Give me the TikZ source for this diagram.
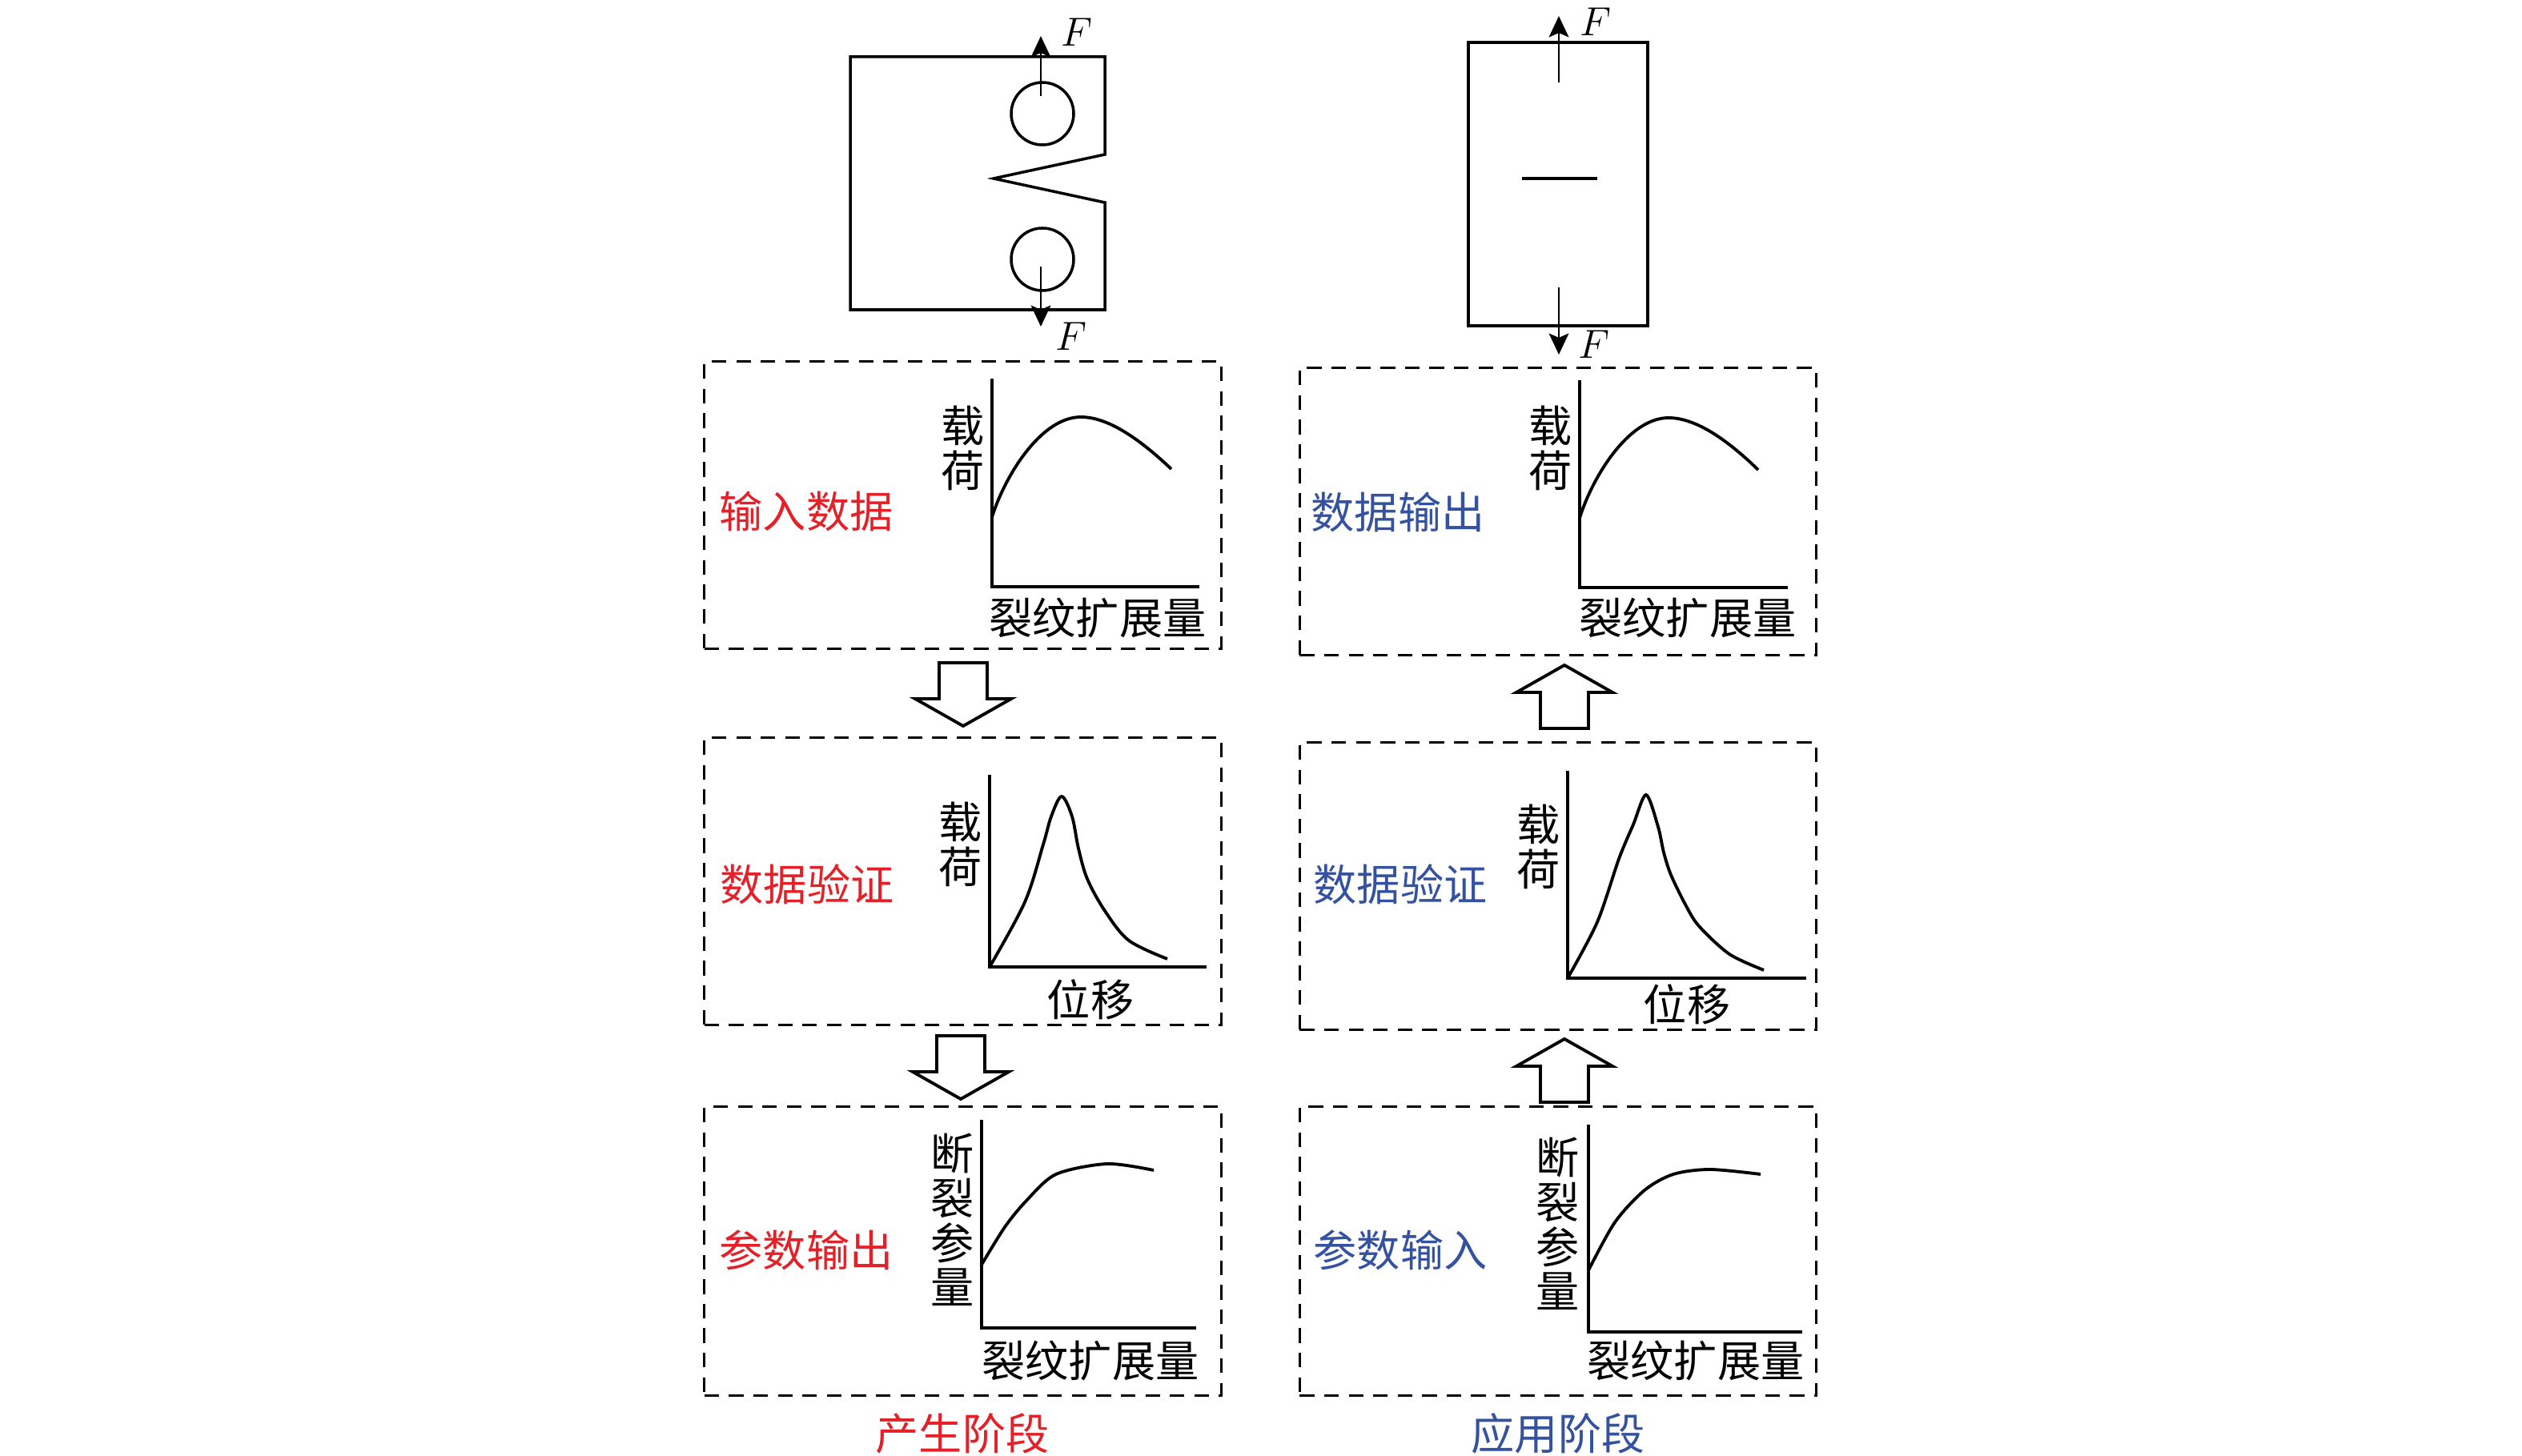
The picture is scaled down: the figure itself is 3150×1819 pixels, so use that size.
\documentclass[tikz,border=0pt]{standalone}
\usepackage{fontspec}
\usetikzlibrary{arrows.meta}
\newfontfamily\cjk{Noto Sans CJK SC}
\definecolor{cred}{RGB}{228, 32, 40}
\definecolor{cblue}{RGB}{52, 82, 160}
\tikzset{dbox/.style = {draw, dash pattern=on 5.2pt off 3.5pt, line width=0.9pt,
                        minimum width=6.45cm, minimum height=3.58cm, inner sep=0}}
\tikzset{txt/.style = {font=\cjk\fontsize{15.4}{15.8}\selectfont, inner sep=0, align=center}}
\tikzset{ftxt/.style = {font=\fontsize{15.5}{18}\selectfont, inner sep=0}}
\tikzset{force/.style = {-{Stealth[length=7.5pt, width=7pt, inset=1.5pt]}, line width=0.8pt}}
\tikzset{blk/.style = {line width=1.1pt, line join=miter}}
\tikzset{crv/.style = {line width=1.1pt}}
\tikzset{solid/.style = {line width=1pt}}

\begin{document}
\begin{tikzpicture}[x=0.01cm, y=-0.01cm]
    \useasboundingbox (0,0) rectangle (3150,1819);

    % specimens
    \draw [solid] (1062,71) -- (1380,71) -- (1380,193) -- (1241,223) -- (1380,253)
          -- (1380,387) -- (1062,387) -- cycle;
    \draw [solid] (1302,142) circle [radius=39];
    \draw [solid] (1302,324) circle [radius=39];
    \draw [force] (1300,120) -- (1300,45);
    \draw [force] (1300,333) -- (1300,408);
    \node [ftxt] (f1) at (1345,40) {$F$};
    \node [ftxt] (f2) at (1338,420) {$F$};

    \draw [solid] (1834,53) rectangle (2058,407);
    \draw [line width=1.2pt] (1901,223) -- (1995,223);
    \draw [force] (1947,103) -- (1947,20);
    \draw [force] (1947,359) -- (1947,443);
    \node [ftxt] (f3) at (1993,27) {$F$};
    \node [ftxt] (f4) at (1991,430) {$F$};

    % dashed boxes
    \node [dbox] (gin)  at (1202.5,631)  {};
    \node [dbox] (gchk) at (1202.5,1101) {};
    \node [dbox, minimum height=3.6cm] (gout) at (1202.5,1563) {};
    \node [dbox] (aout) at (1946,639)  {};
    \node [dbox] (achk) at (1946,1107) {};
    \node [dbox, minimum height=3.6cm] (ain)  at (1946,1563) {};

    % block arrows
    \foreach \x/\y/\s in {1203/907/1, 1200/1373/1, 1954/831/-1, 1954/1298/-1} {
      \draw [blk] ({\x-30},{\y-79*\s}) -- ({\x+30},{\y-79*\s}) -- ({\x+30},{\y-34*\s})
            -- ({\x+60},{\y-34*\s}) -- (\x,\y) -- ({\x-60},{\y-34*\s})
            -- ({\x-30},{\y-34*\s}) -- cycle;
    }

    % load vs crack extension
    \draw [crv] (1239,473) -- (1239,733) -- (1498,733);
    \draw [crv] (1239,646) .. controls (1255,595) and (1300,521) .. (1350,521)
          .. controls (1385,521) and (1425,550) .. (1463,586);
    \draw [crv] (1973,475) -- (1973,734) -- (2233,734);
    \draw [crv] (1973,647) .. controls (1989,596) and (2034,522) .. (2084,522)
          .. controls (2119,522) and (2159,551) .. (2196,587);

    % load vs displacement
    \draw [crv] (1236,968) -- (1236,1208) -- (1507,1208);
    \draw [crv] plot [smooth, tension=0.55] coordinates {(1236,1208) (1280,1127) (1303,1055)
          (1313,1020) (1326,995) (1339,1020) (1347,1060) (1358,1098) (1380,1138)
          (1410,1175) (1458,1198)};
    \draw [crv] (1958,963) -- (1958,1222) -- (2256,1222);
    \draw [crv] plot [smooth, tension=0.5] coordinates {(1958,1222) (1995,1152) (2022,1073)
          (2040,1030) (2056,993) (2071,1033) (2078,1065) (2087,1093) (2105,1130) (2122,1157)
          (2160,1192) (2203,1212)};

    % fracture parameter vs crack extension
    \draw [crv] (1226,1399) -- (1226,1659) -- (1494,1659);
    \draw [crv] plot [smooth] coordinates {(1226,1580) (1255,1533) (1282,1500) (1319,1467)
          (1383,1454) (1441,1462)};
    \draw [crv] (1984,1405) -- (1984,1664) -- (2251,1664);
    \draw [crv] plot [smooth] coordinates {(1984,1587) (2017,1527) (2054,1487) (2090,1467)
          (2136,1461) (2199,1467)};

    % axis labels
    \node [txt] (gy1) at (1203,560)  {载\\荷};
    \node [txt] (gx1) at (1371,772)  {裂纹扩展量};
    \node [txt] (gy2) at (1200,1055) {载\\荷};
    \node [txt] (gx2) at (1362,1249) {位移};
    \node [txt] (gy3) at (1190,1524) {断\\裂\\参\\量};
    \node [txt] (gx3) at (1362,1700) {裂纹扩展量};
    \node [txt] (ay1) at (1937,560)  {载\\荷};
    \node [txt] (ax1) at (2108,772)  {裂纹扩展量};
    \node [txt] (ay2) at (1922,1058) {载\\荷};
    \node [txt] (ax2) at (2107,1255) {位移};
    \node [txt] (ay3) at (1946,1529) {断\\裂\\参\\量};
    \node [txt] (ax3) at (2118,1700) {裂纹扩展量};

    % stage labels
    \node [txt, cred]  (tgin)  at (1007,639)  {输入数据};
    \node [txt, cred]  (tgchk) at (1008,1105) {数据验证};
    \node [txt, cred]  (tgout) at (1007,1562) {参数输出};
    \node [txt, cblue] (taout) at (1746,640)  {数据输出};
    \node [txt, cblue] (tachk) at (1749,1105) {数据验证};
    \node [txt, cblue] (tain)  at (1749,1562) {参数输入};
    \node [txt, cred]  (gen) at (1202,1791) {产生阶段};
    \node [txt, cblue] (app) at (1946,1791) {应用阶段};
\end{tikzpicture}
\end{document}
